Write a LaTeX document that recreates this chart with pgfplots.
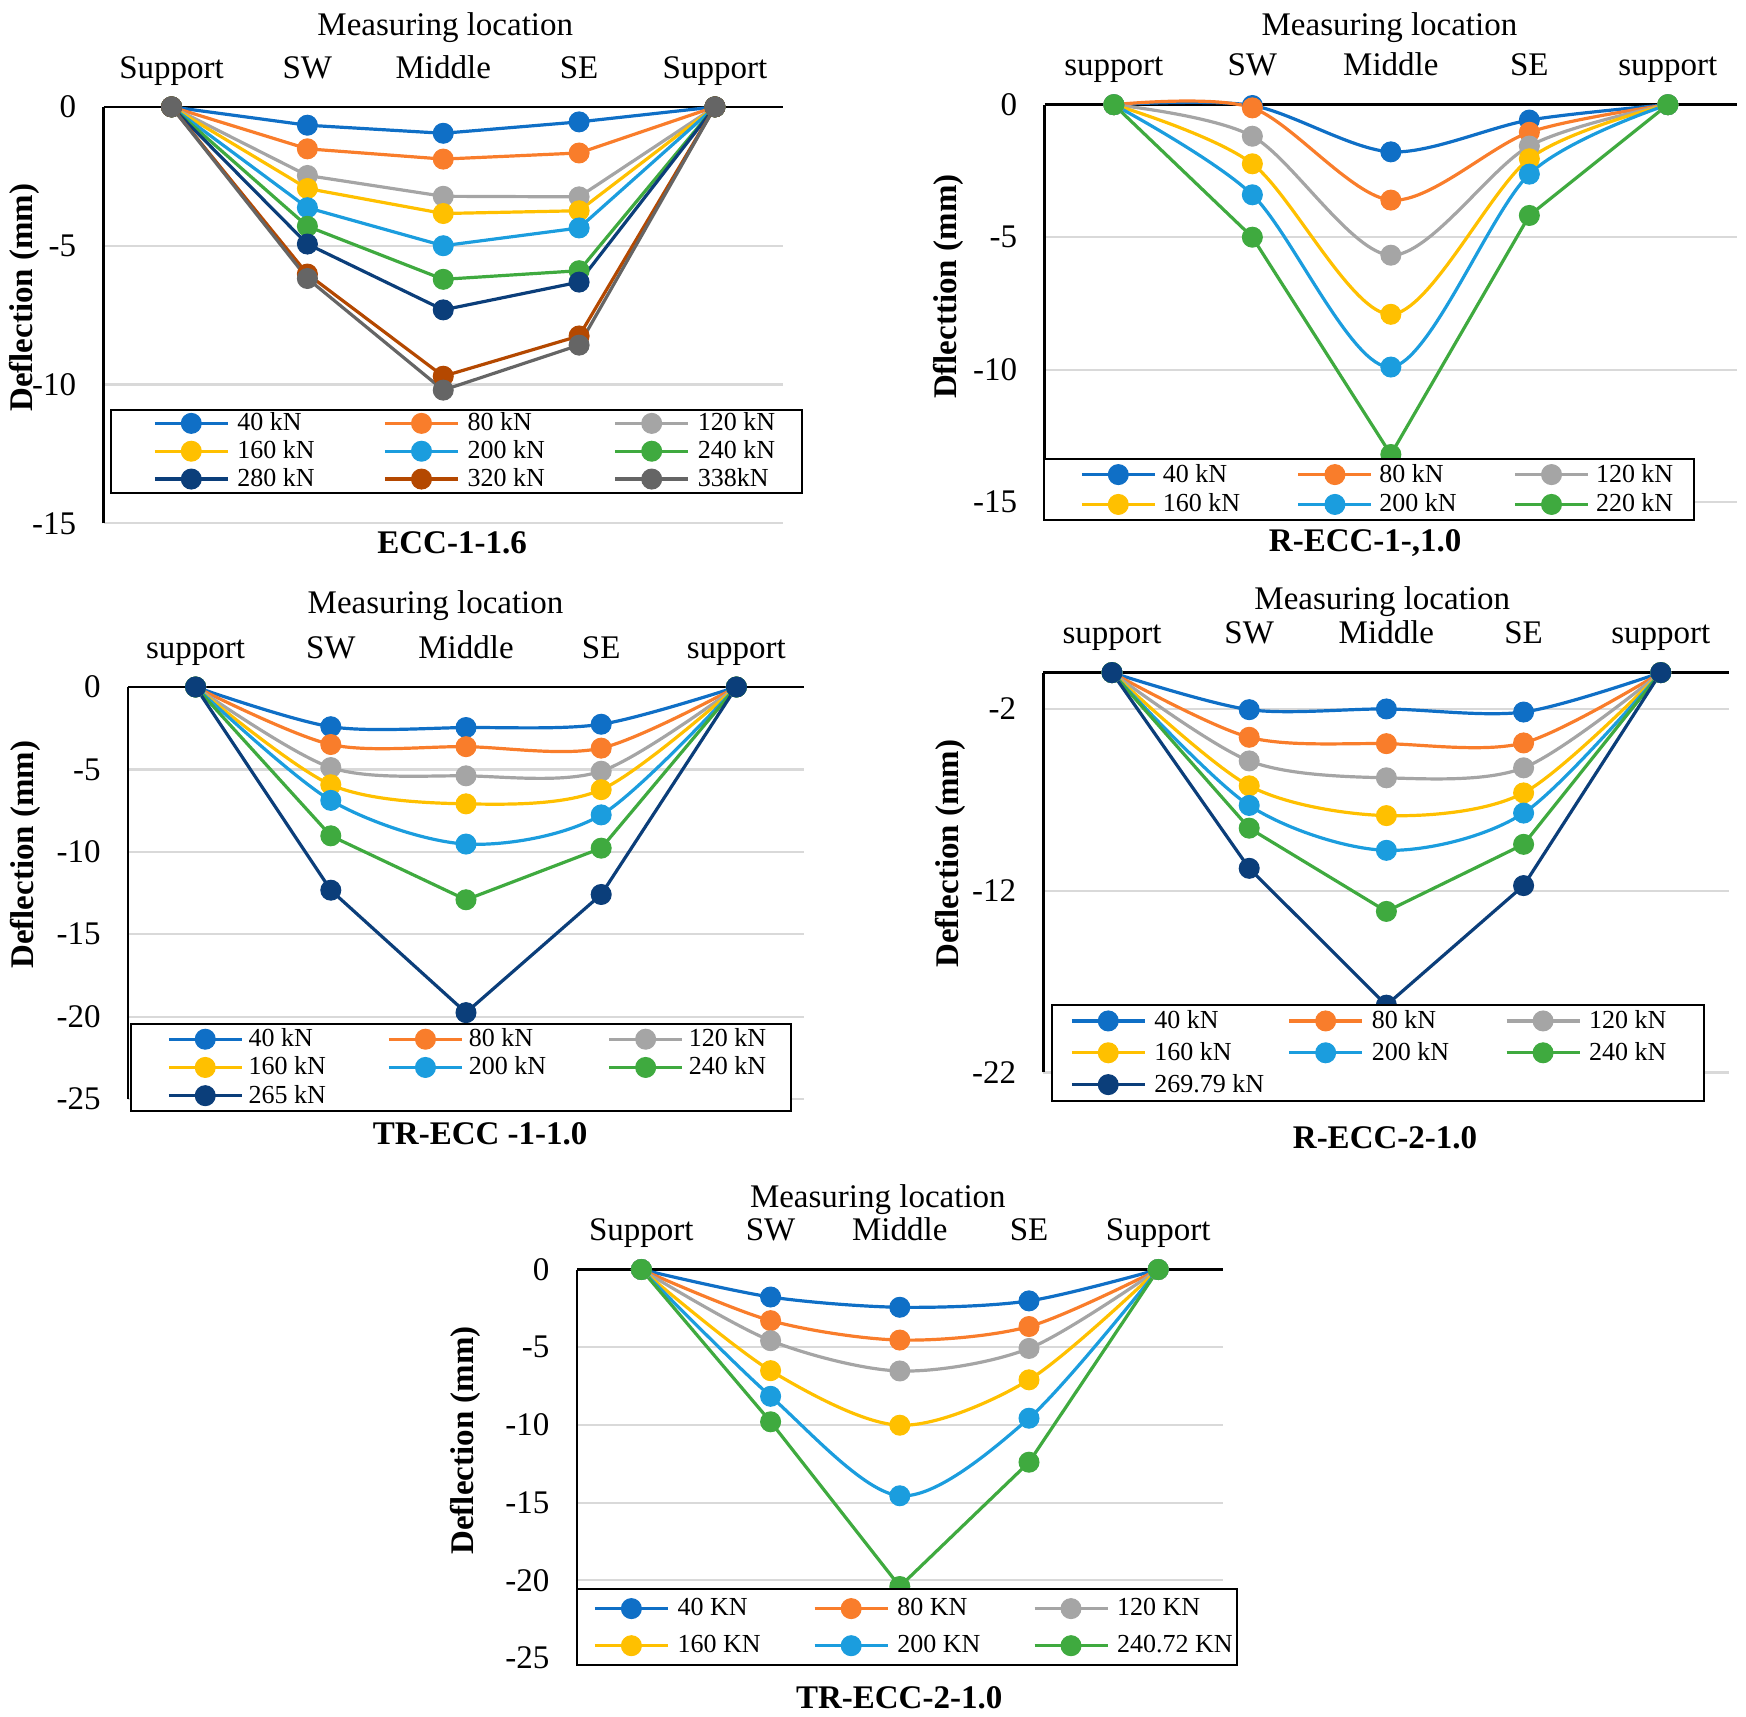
\documentclass[border=0pt]{standalone}
\usepackage{fontspec}
\setmainfont{Liberation Serif}
\usepackage{pgfplots}
\pgfplotsset{compat=1.18}
\definecolor{c40}{HTML}{0F6FC6}
\definecolor{c80}{HTML}{F97D2B}
\definecolor{c120}{HTML}{A5A5A5}
\definecolor{c160}{HTML}{FFC000}
\definecolor{c200}{HTML}{1B9DDE}
\definecolor{c240}{HTML}{3FAA3F}
\definecolor{c280}{HTML}{0B3E7A}
\definecolor{c320}{HTML}{B44800}
\definecolor{c338}{HTML}{656565}
\definecolor{gridc}{HTML}{D9D9D9}
\newcommand{\ts}{\fontsize{16.5}{19}\selectfont}
\newcommand{\lgs}{\fontsize{13}{15}\selectfont}
\newcommand{\LE}[2]{\addlegendentry{\makebox[#1][l]{#2}}}
\pgfplotsset{
  panel/.style={
    scale only axis, clip=false, anchor=north west,
    xmin=-0.5, xmax=4.5, xtick={0,1,2,3,4},
    axis x line*=top, axis y line*=left,
    axis line style={line width=1.3pt, black},
    major tick length=0pt,
    ymajorgrids, grid style={line width=1.1pt, color=gridc},
    tick label style={font=\ts},
    xticklabel style={anchor=base, inner sep=0pt, yshift=14.4pt},
    yticklabel style={anchor=east, inner sep=0pt, xshift=-13.5pt},
    xlabel style={font=\ts, anchor=center},
    ylabel style={font=\bfseries\ts, anchor=center},
    title style={font=\bfseries\ts, anchor=center, yshift=-6pt},
    legend columns=3,
    every axis plot/.append style={line width=1.6pt, mark=*, mark size=5pt, mark options={line width=0.5pt}},
    legend image code/.code={\draw[mark repeat=2,mark phase=2,##1] plot coordinates {(0pt,0pt) (18.25pt,0pt) (36.5pt,0pt)};},
  },
  leg/.style n args={7}{legend style={at={(axis description cs:#1,#2)}, anchor=north west, draw=black, line width=1pt, inner xsep=#3, inner ysep=#4,
      /tikz/every odd column/.append style={column sep=#5},
      /tikz/every even column/.append style={column sep=#6},
      row sep=#7, font=\lgs, cells={anchor=west}, nodes={inner sep=0pt}}},
}
\begin{document}
\begin{tikzpicture}
\useasboundingbox (0,0) rectangle (873pt,-858.5pt);
% ---------------- Panel 1 ----------------
\begin{axis}[panel, at={(51.8pt,-53.45pt)}, width=339.65pt, height=208.25pt,
  ymin=-15, ymax=0, ytick={0,-5,-10,-15}, yticklabels={0,-5,-10,-15},
  xticklabels={Support,SW,Middle,SE,Support},
  xlabel={Measuring location}, xlabel style={at={(axis description cs:0.503,1.19)}},
  ylabel={Deflection (mm)}, ylabel style={at={(axis description cs:-0.117,0.542)}},
  title={ECC-1-1.6}, title style={at={(axis description cs:0.513,-0.047)}},
  leg={0.0097}{0.275}{21pt}{1.5pt}{4pt}{33pt}{3.4pt}]
\addplot[c40] coordinates {(0,0) (1,-0.66) (2,-0.95) (3,-0.54) (4,0)}; \LE{40pt}{40 kN}
\addplot[c80] coordinates {(0,0) (1,-1.51) (2,-1.88) (3,-1.66) (4,0)}; \LE{40pt}{80 kN}
\addplot[c120] coordinates {(0,0) (1,-2.47) (2,-3.22) (3,-3.24) (4,0)}; \LE{31pt}{120 kN}
\addplot[c160] coordinates {(0,0) (1,-2.94) (2,-3.84) (3,-3.74) (4,0)}; \LE{40pt}{160 kN}
\addplot[c200] coordinates {(0,0) (1,-3.63) (2,-5.00) (3,-4.36) (4,0)}; \LE{40pt}{200 kN}
\addplot[c240] coordinates {(0,0) (1,-4.30) (2,-6.21) (3,-5.90) (4,0)}; \LE{31pt}{240 kN}
\addplot[c280] coordinates {(0,0) (1,-4.94) (2,-7.31) (3,-6.31) (4,0)}; \LE{40pt}{280 kN}
\addplot[c320] coordinates {(0,0) (1,-6.02) (2,-9.70) (3,-8.25) (4,0)}; \LE{40pt}{320 kN}
\addplot[c338] coordinates {(0,0) (1,-6.18) (2,-10.20) (3,-8.58) (4,0)}; \LE{31pt}{338kN}
\end{axis}
% ---------------- Panel 2 ----------------
\begin{axis}[panel, at={(522.3pt,-52.35pt)}, width=346.25pt, height=198.75pt,
  ymin=-15, ymax=0, ytick={0,-5,-10,-15}, yticklabels={0,-5,-10,-15},
  xticklabels={support,SW,Middle,SE,support},
  xlabel={Measuring location}, xlabel style={at={(axis description cs:0.498,1.194)}},
  ylabel={Dflecttion (mm)}, ylabel style={at={(axis description cs:-0.139,0.542)}},
  title={R-ECC-1-,1.0}, title style={at={(axis description cs:0.463,-0.103)}},
  leg={-0.002}{0.111}{18pt}{2.5pt}{3.2pt}{27pt}{4.4pt}]
\addplot[c40, smooth] coordinates {(0,0) (1,-0.03) (2,-1.78) (3,-0.58) (4,0)}; \LE{40pt}{40 kN}
\addplot[c80, smooth] coordinates {(0,0) (1,-0.12) (2,-3.60) (3,-1.04) (4,0)}; \LE{40pt}{80 kN}
\addplot[c120, smooth] coordinates {(0,0) (1,-1.19) (2,-5.68) (3,-1.56) (4,0)}; \LE{30.8pt}{120 kN}
\addplot[c160, smooth] coordinates {(0,0) (1,-2.23) (2,-7.91) (3,-2.04) (4,0)}; \LE{40pt}{160 kN}
\addplot[c200, smooth] coordinates {(0,0) (1,-3.40) (2,-9.90) (3,-2.62) (4,0)}; \LE{40pt}{200 kN}
\addplot[c240] coordinates {(0,0) (1,-5.00) (2,-13.20) (3,-4.18) (4,0)}; \LE{30.8pt}{220 kN}
\end{axis}
% ---------------- Panel 3 ----------------
\begin{axis}[panel, at={(64pt,-343.5pt)}, width=338pt, height=206pt,
  ymin=-25, ymax=0, ytick={0,-5,-10,-15,-20,-25}, yticklabels={0,-5,-10,-15,-20,-25},
  xticklabels={support,SW,Middle,SE,support},
  xlabel={Measuring location}, xlabel style={at={(axis description cs:0.455,1.198)}},
  ylabel={Deflection (mm)}, ylabel style={at={(axis description cs:-0.152,0.593)}},
  title={TR-ECC -1-1.0}, title style={at={(axis description cs:0.521,-0.084)}},
  leg={0.0023}{0.184}{18.3pt}{2.25pt}{2.6pt}{29.4pt}{3.6pt}]
\addplot[c40, smooth] coordinates {(0,0) (1,-2.41) (2,-2.46) (3,-2.26) (4,0)}; \LE{40pt}{40 kN}
\addplot[c80, smooth] coordinates {(0,0) (1,-3.49) (2,-3.62) (3,-3.71) (4,0)}; \LE{40pt}{80 kN}
\addplot[c120, smooth] coordinates {(0,0) (1,-4.89) (2,-5.39) (3,-5.11) (4,0)}; \LE{32.8pt}{120 kN}
\addplot[c160, smooth] coordinates {(0,0) (1,-5.93) (2,-7.09) (3,-6.23) (4,0)}; \LE{40pt}{160 kN}
\addplot[c200, smooth] coordinates {(0,0) (1,-6.88) (2,-9.53) (3,-7.76) (4,0)}; \LE{40pt}{200 kN}
\addplot[c240] coordinates {(0,0) (1,-9.03) (2,-12.91) (3,-9.78) (4,0)}; \LE{32.8pt}{240 kN}
\addplot[c280] coordinates {(0,0) (1,-12.33) (2,-19.76) (3,-12.59) (4,0)}; \LE{40pt}{265 kN}
\end{axis}
% ---------------- Panel 4 ----------------
\begin{axis}[panel, at={(521.7pt,-336.3pt)}, width=343pt, height=199.9pt,
  ymin=-22, ymax=0, ytick={-2,-12,-22}, yticklabels={-2,-12,-22},
  xticklabels={support,SW,Middle,SE,support},
  xlabel={Measuring location}, xlabel style={at={(axis description cs:0.494,1.177)}},
  ylabel={Deflection (mm)}, ylabel style={at={(axis description cs:-0.135,0.547)}},
  title={R-ECC-2-1.0}, title style={at={(axis description cs:0.498,-0.163)}},
  leg={0.0116}{0.171}{8.9pt}{2.7pt}{4pt}{26.6pt}{5.4pt}]
\addplot[c40, smooth] coordinates {(0,0) (1,-2.04) (2,-2.00) (3,-2.17) (4,0)}; \LE{40pt}{40 kN}
\addplot[c80, smooth] coordinates {(0,0) (1,-3.56) (2,-3.91) (3,-3.87) (4,0)}; \LE{40pt}{80 kN}
\addplot[c120, smooth] coordinates {(0,0) (1,-4.86) (2,-5.79) (3,-5.24) (4,0)}; \LE{48.5pt}{120 kN}
\addplot[c160, smooth] coordinates {(0,0) (1,-6.23) (2,-7.87) (3,-6.62) (4,0)}; \LE{40pt}{160 kN}
\addplot[c200, smooth] coordinates {(0,0) (1,-7.31) (2,-9.78) (3,-7.73) (4,0)}; \LE{40pt}{200 kN}
\addplot[c240] coordinates {(0,0) (1,-8.56) (2,-13.14) (3,-9.45) (4,0)}; \LE{48.5pt}{240 kN}
\addplot[c280] coordinates {(0,0) (1,-10.77) (2,-18.30) (3,-11.72) (4,0)}; \LE{40pt}{269.79 kN}
\end{axis}
% ---------------- Panel 5 ----------------
\begin{axis}[panel, at={(288.4pt,-634.75pt)}, width=323pt, height=194.25pt,
  ymin=-25, ymax=0, ytick={0,-5,-10,-15,-20,-25}, yticklabels={0,-5,-10,-15,-20,-25},
  xticklabels={Support,SW,Middle,SE,Support},
  xlabel={Measuring location}, xlabel style={at={(axis description cs:0.466,1.181)}},
  ylabel={Deflection (mm)}, ylabel style={at={(axis description cs:-0.173,0.56)}},
  title={TR-ECC-2-1.0}, title style={at={(axis description cs:0.499,-0.102)}},
  leg={-0.0017}{0.179}{8.3pt}{4.5pt}{4pt}{27.8pt}{8.4pt}]
\addplot[c40, smooth] coordinates {(0,0) (1,-1.77) (2,-2.43) (3,-2.02) (4,0)}; \LE{40pt}{40 KN}
\addplot[c80, smooth] coordinates {(0,0) (1,-3.29) (2,-4.54) (3,-3.67) (4,0)}; \LE{40pt}{80 KN}
\addplot[c120, smooth] coordinates {(0,0) (1,-4.58) (2,-6.53) (3,-5.08) (4,0)}; \LE{51.7pt}{120 KN}
\addplot[c160, smooth] coordinates {(0,0) (1,-6.51) (2,-10.02) (3,-7.10) (4,0)}; \LE{40pt}{160 KN}
\addplot[c200, smooth] coordinates {(0,0) (1,-8.16) (2,-14.56) (3,-9.57) (4,0)}; \LE{40pt}{200 KN}
\addplot[c240] coordinates {(0,0) (1,-9.80) (2,-20.40) (3,-12.40) (4,0)}; \LE{51.7pt}{240.72 KN}
\end{axis}
\end{tikzpicture}
\end{document}
